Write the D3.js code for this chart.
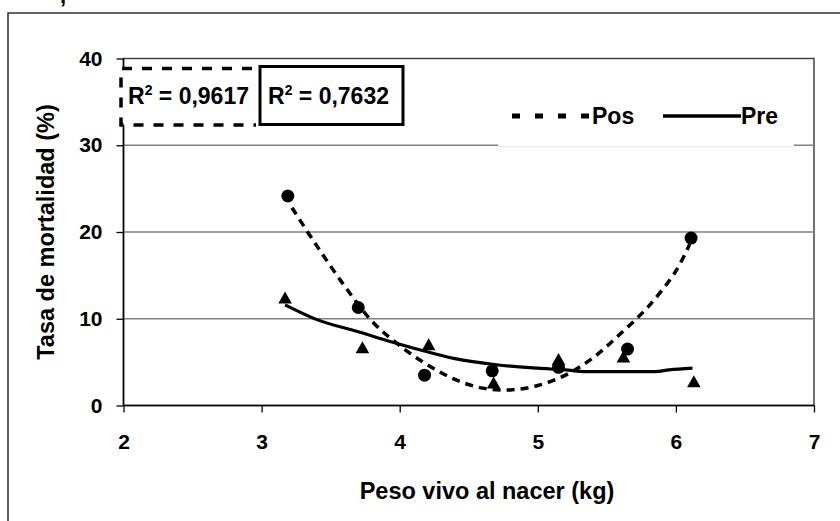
<!DOCTYPE html>
<html>
<head>
<meta charset="utf-8">
<script src="https://cdn.jsdelivr.net/npm/d3@7"></script>
<style>
  html, body { margin: 0; padding: 0; background: #fff; }
  svg { display: block; font-family: "Liberation Sans", Arial, sans-serif; font-weight: bold; }
</style>
</head>
<body>
<svg id="chart" width="840" height="521"></svg>
<script>
// ---- data ----
const pesoPos = [3.19, 3.70, 4.18, 4.67, 5.15, 5.65, 6.11];
const tasaPos = [24.15, 11.3, 3.5, 4.0, 4.4, 6.5, 19.3];
const pesoPre = [3.17, 3.73, 4.21, 4.68, 5.15, 5.62, 6.13];
const tasaPre = [12.4, 6.65, 7.0, 2.6, 5.3, 5.6, 2.75];

// trend lines
const trendPosX = [3.22, 3.4, 3.6, 3.8, 4.0, 4.2, 4.4, 4.6, 4.8, 5.0, 5.2, 5.4, 5.6, 5.8, 6.0, 6.1];
const trendPosY = [22.8, 18.4, 13.8, 9.7, 6.9, 4.7, 3.0, 2.0, 1.8, 2.3, 3.5, 5.5, 8.3, 11.4, 15.5, 18.6];
const trendPreX = [3.17, 3.4, 3.7, 3.95, 4.15, 4.4, 4.7, 5.0, 5.2, 5.35, 5.6, 5.85, 5.95, 6.12];
const trendPreY = [11.6, 9.9, 8.5, 7.3, 6.4, 5.4, 4.7, 4.3, 4.1, 3.9, 3.9, 3.9, 4.1, 4.3];

const xTicks = [2, 3, 4, 5, 6, 7];
const yTicks = [0, 10, 20, 30, 40];
const gridValues = [10, 20, 30];
const seriesNames = ["Pos", "Pre"];
const r2Labels = ["0,9617", "0,7632"];
const xTitle = "Peso vivo al nacer (kg)";
const yTitle = "Tasa de mortalidad (%)";

// ---- layout ----
const svg = d3.select("#chart");
const x = d3.scaleLinear().domain([2, 7]).range([123.5, 814]);
const y = d3.scaleLinear().domain([0, 40]).range([405.5, 58.5]);

// outer chart frame (cut by the picture edge)
svg.append("path").attr("d", "M8,530 L8,13 L850,13")
  .attr("fill", "none").attr("stroke", "#333").attr("stroke-width", 1.6);
// fragment of text above the frame
svg.append("text").attr("x", 60).attr("y", 3).attr("font-size", 22).text(",");

// plot area border
svg.append("rect").attr("x", x(2)).attr("y", y(40))
  .attr("width", x(7) - x(2)).attr("height", y(0) - y(40))
  .attr("fill", "none").attr("stroke", "#444").attr("stroke-width", 1.5);

// gridlines
svg.append("g").selectAll("line").data(gridValues).join("line")
  .attr("x1", x(2)).attr("x2", x(7))
  .attr("y1", d => y(d)).attr("y2", d => y(d))
  .attr("stroke", "#808080").attr("stroke-width", 1.5);

// axes
const yAxis = svg.append("g").attr("transform", `translate(${x(2)},0)`)
  .call(d3.axisLeft(y).tickValues(yTicks).tickSize(7).tickPadding(14).tickFormat(d3.format("d")));
const xAxis = svg.append("g").attr("transform", `translate(0,${y(0)})`)
  .call(d3.axisBottom(x).tickValues(xTicks).tickSize(7).tickPadding(22).tickFormat(d3.format("d")));
[xAxis, yAxis].forEach(a => {
  a.select(".domain").attr("stroke", "#000").attr("stroke-width", 1.5);
  a.selectAll(".tick line").attr("stroke", "#000").attr("stroke-width", 1.3);
  a.selectAll(".tick text").attr("font-size", 21).attr("font-weight", "bold")
    .attr("font-family", "Liberation Sans, Arial, sans-serif").attr("fill", "#000");
});
xAxis.select(".domain").attr("d", `M${x(2)},0H${x(7)}`);
yAxis.select(".domain").attr("d", `M0,${y(0)}V${y(40)}`);

// axis titles
svg.append("text").attr("x", 487).attr("y", 499)
  .attr("text-anchor", "middle").attr("font-size", 23.5).text(xTitle);
svg.append("text").attr("transform", `translate(54,${(y(0) + y(40)) / 2}) rotate(-90)`)
  .attr("text-anchor", "middle").attr("font-size", 23.5).text(yTitle);

// markers
svg.append("g").selectAll("circle").data(pesoPos.map((p, i) => [p, tasaPos[i]])).join("circle")
  .attr("cx", d => x(d[0])).attr("cy", d => y(d[1])).attr("r", 6.5).attr("fill", "#000");
svg.append("g").selectAll("path").data(pesoPre.map((p, i) => [p, tasaPre[i]])).join("path")
  .attr("d", d => {
    const cx = x(d[0]), cy = y(d[1]);
    return `M${cx},${cy - 6.5}L${cx + 6.8},${cy + 5.5}L${cx - 6.8},${cy + 5.5}Z`;
  })
  .attr("fill", "#000");

// trend lines
const line = d3.line().x(d => x(d[0])).y(d => y(d[1])).curve(d3.curveMonotoneX);
svg.append("path").datum(trendPreX.map((v, i) => [v, trendPreY[i]]))
  .attr("d", line).attr("fill", "none").attr("stroke", "#000").attr("stroke-width", 3.2);
const posLine = d3.line().x(d => x(d[0])).y(d => y(d[1])).curve(d3.curveCatmullRom);
svg.append("path").datum(trendPosX.map((v, i) => [v, trendPosY[i]]))
  .attr("d", posLine).attr("fill", "none").attr("stroke", "#000").attr("stroke-width", 3.5)
  .attr("stroke-dasharray", "8,6");

// legend
const lg = svg.append("g");
lg.append("rect").attr("x", 498).attr("y", 84).attr("width", 296).attr("height", 62.5).attr("fill", "#fff");
lg.append("line").attr("x1", 498).attr("x2", 794).attr("y1", 146.8).attr("y2", 146.8)
  .attr("stroke", "#e4e4e4").attr("stroke-width", 1);
lg.append("line").attr("x1", 512).attr("x2", 591).attr("y1", 116).attr("y2", 116)
  .attr("stroke", "#000").attr("stroke-width", 5).attr("stroke-dasharray", "8,15");
lg.append("text").attr("x", 592).attr("y", 124).attr("font-size", 23).text(seriesNames[0]);
lg.append("line").attr("x1", 663).attr("x2", 741).attr("y1", 116).attr("y2", 116)
  .attr("stroke", "#000").attr("stroke-width", 3.5);
lg.append("text").attr("x", 741).attr("y", 124).attr("font-size", 23).text(seriesNames[1]);

// R² boxes
const rb = svg.append("g");
rb.append("rect").attr("x", 120.5).attr("y", 68).attr("width", 135).attr("height", 57).attr("fill", "#fff");
rb.append("path").attr("d", "M256,68.5 H121 V125 H256")
  .attr("fill", "none").attr("stroke", "#000").attr("stroke-width", 3.5)
  .attr("stroke-dasharray", "10,10").attr("stroke-dashoffset", -4);
rb.append("rect").attr("x", 260).attr("y", 66.5).attr("width", 143).attr("height", 58)
  .attr("fill", "#fff").attr("stroke", "#000").attr("stroke-width", 3);
function r2Text(xp, val) {
  const t = rb.append("text").attr("x", xp).attr("y", 104).attr("font-size", 23);
  t.append("tspan").text("R");
  t.append("tspan").attr("font-size", 14).attr("dy", -9).text("2");
  t.append("tspan").attr("dy", 9).text(" = " + val);
}
r2Text(128, r2Labels[0]);
r2Text(268, r2Labels[1]);
</script>
</body>
</html>
